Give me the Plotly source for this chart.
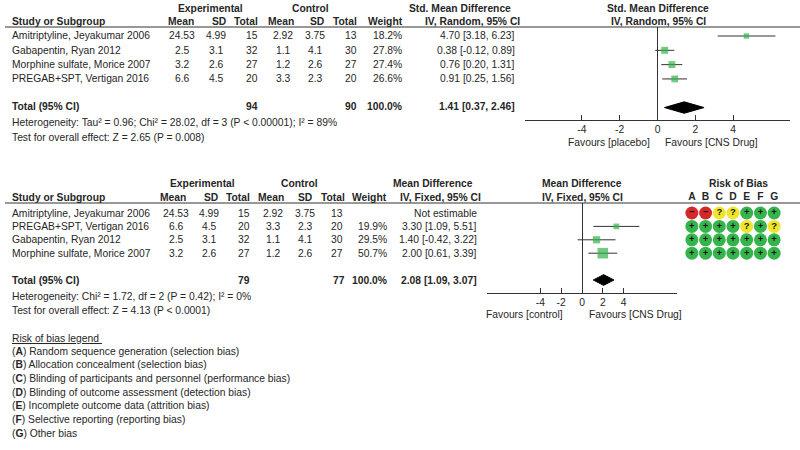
import plotly.graph_objects as go

# ---------------- data ----------------
top_studies = ["Amitriptyline, Jeyakumar 2006", "Gabapentin, Ryan 2012",
               "Morphine sulfate, Morice 2007", "PREGAB+SPT, Vertigan 2016"]
top_exp_mean = [24.53, 2.5, 3.2, 6.6]
top_exp_sd = [4.99, 3.1, 2.6, 4.5]
top_exp_n = [15, 32, 27, 20]
top_ctl_mean = [2.92, 1.1, 1.2, 3.3]
top_ctl_sd = [3.75, 4.1, 2.6, 2.3]
top_ctl_n = [13, 30, 27, 20]
top_weight = [18.2, 27.8, 27.4, 26.6]
top_est = [4.70, 0.38, 0.76, 0.91]
top_lo = [3.18, -0.12, 0.20, 0.25]
top_hi = [6.23, 0.89, 1.31, 1.56]
top_total_n = [94, 90]
top_pooled = [1.41, 0.37, 2.46]

bot_studies = ["Amitriptyline, Jeyakumar 2006", "PREGAB+SPT, Vertigan 2016",
               "Gabapentin, Ryan 2012", "Morphine sulfate, Morice 2007"]
bot_exp_mean = [24.53, 6.6, 2.5, 3.2]
bot_exp_sd = [4.99, 4.5, 3.1, 2.6]
bot_exp_n = [15, 20, 32, 27]
bot_ctl_mean = [2.92, 3.3, 1.1, 1.2]
bot_ctl_sd = [3.75, 2.3, 4.1, 2.6]
bot_ctl_n = [13, 20, 30, 27]
bot_weight = [None, 19.9, 29.5, 50.7]
bot_est = [None, 3.30, 1.40, 2.00]
bot_lo = [None, 1.09, -0.42, 0.61]
bot_hi = [None, 5.51, 3.22, 3.39]
bot_total_n = [79, 77]
bot_pooled = [2.08, 1.09, 3.07]

rob_domains = ["A", "B", "C", "D", "E", "F", "G"]
rob_ratings = [
    ["-", "-", "?", "?", "+", "+", "+"],
    ["+", "+", "+", "+", "?", "+", "?"],
    ["+", "+", "+", "+", "+", "+", "+"],
    ["+", "+", "+", "+", "+", "+", "+"],
]
rob_legend = [
    ("A", "Random sequence generation (selection bias)"),
    ("B", "Allocation concealment (selection bias)"),
    ("C", "Blinding of participants and personnel (performance bias)"),
    ("D", "Blinding of outcome assessment (detection bias)"),
    ("E", "Incomplete outcome data (attrition bias)"),
    ("F", "Selective reporting (reporting bias)"),
    ("G", "Other bias"),
]
forest_ticks = [-4, -2, 0, 2, 4]

# ---------------- styling ----------------
W, H = 800, 450
FONT = "Arial, 'Liberation Sans', sans-serif"
FS = 10.3
TXT = "#262626"
GREEN = "#34B44A"
RED = "#D6282B"
YELLOW = "#F1E52B"
LINE = "#333333"


def px(x):
    return x / W


def py(y):
    return 1 - y / H


annotations = []


def txt(x, y, s, anchor="left", bold=False, size=FS):
    if bold:
        s = "<b>" + s + "</b>"
    annotations.append(dict(x=px(x), y=py(y), xref="paper", yref="paper",
                            text=s, showarrow=False, xanchor=anchor,
                            yanchor="middle", font=dict(size=size, color=TXT, family=FONT)))


def fmt(v):
    return f"{v:g}"


def ci(e, l, h):
    return f"{e:.2f} [{l:.2f}, {h:.2f}]"


fig = go.Figure()

# ============ TOP PANEL ============
top_rows_px = [36 + 14.3 * i for i in range(4)]
top_total_px = 107
txt(210, 8, "Experimental", "center", True)
txt(310, 8, "Control", "center", True)
txt(460, 8, "Std. Mean Difference", "center", True)
txt(658, 8, "Std. Mean Difference", "center", True)
txt(10, 22, "Study or Subgroup", "left", True)
for xx, s in [(196, "Mean"), (228, "SD"), (260, "Total"), (296, "Mean"), (326, "SD"),
              (359, "Total"), (405, "Weight"), (522, "IV, Random, 95% CI")]:
    txt(xx, 22, s, "right", True)
txt(658, 22, "IV, Random, 95% CI", "center", True)

for i, yy in enumerate(top_rows_px):
    txt(10, yy, top_studies[i])
    txt(182, yy, fmt(top_exp_mean[i]), "center")
    txt(216, yy, fmt(top_exp_sd[i]), "center")
    txt(260, yy, str(top_exp_n[i]), "right")
    txt(283, yy, fmt(top_ctl_mean[i]), "center")
    txt(315, yy, fmt(top_ctl_sd[i]), "center")
    txt(359, yy, str(top_ctl_n[i]), "right")
    txt(404, yy, f"{top_weight[i]:.1f}%", "right")
    txt(517, yy, ci(top_est[i], top_lo[i], top_hi[i]), "right")

txt(10, top_total_px, "Total (95% CI)", "left", True)
txt(260, top_total_px, str(top_total_n[0]), "right", True)
txt(359, top_total_px, str(top_total_n[1]), "right", True)
txt(404, top_total_px, "100.0%", "right", True)
txt(517, top_total_px, ci(*top_pooled), "right", True)
txt(10, 123, "Heterogeneity: Tau² = 0.96; Chi² = 28.02, df = 3 (P &lt; 0.00001); I² = 89%")
txt(10, 137, "Test for overall effect: Z = 2.65 (P = 0.008)")
txt(652, 143, "Favours [placebo]", "right")
txt(663, 143, "Favours [CNS Drug]", "left")

# top forest
fig.add_trace(go.Scatter(
    x=top_est, y=list(range(4)), mode="markers", xaxis="x", yaxis="y",
    marker=dict(symbol="square", color=GREEN, size=[2.5 + 0.16 * w for w in top_weight],
                line=dict(width=0)),
    error_x=dict(type="data", symmetric=False,
                 array=[h - e for h, e in zip(top_hi, top_est)],
                 arrayminus=[e - l for e, l in zip(top_est, top_lo)],
                 color=LINE, thickness=1, width=0),
    hoverinfo="skip", showlegend=False))
e, l, h = top_pooled
fig.add_trace(go.Scatter(
    x=[l, e, h, e, l], y=[5, 5 - 0.4, 5, 5 + 0.4, 5], mode="lines", fill="toself",
    fillcolor="black", line=dict(color="black", width=1), xaxis="x", yaxis="y",
    hoverinfo="skip", showlegend=False))

# ============ BOTTOM PANEL ============
bot_rows_px = [213 + 13.4 * i for i in range(4)]
bot_total_px = 280
txt(203, 183, "Experimental", "center", True)
txt(299, 183, "Control", "center", True)
txt(433, 183, "Mean Difference", "center", True)
txt(582, 183, "Mean Difference", "center", True)
txt(738, 183, "Risk of Bias", "center", True)
txt(10, 198, "Study or Subgroup", "left", True)
for xx, s in [(188, "Mean"), (220, "SD"), (252, "Total"), (286, "Mean"), (314, "SD"),
              (347, "Total"), (389, "Weight"), (483, "IV, Fixed, 95% CI")]:
    txt(xx, 198, s, "right", True)
txt(582, 198, "IV, Fixed, 95% CI", "center", True)

for i, yy in enumerate(bot_rows_px):
    txt(10, yy, bot_studies[i])
    txt(176, yy, fmt(bot_exp_mean[i]), "center")
    txt(209, yy, fmt(bot_exp_sd[i]), "center")
    txt(252, yy, str(bot_exp_n[i]), "right")
    txt(273, yy, fmt(bot_ctl_mean[i]), "center")
    txt(305, yy, fmt(bot_ctl_sd[i]), "center")
    txt(345, yy, str(bot_ctl_n[i]), "right")
    if bot_weight[i] is not None:
        txt(389, yy, f"{bot_weight[i]:.1f}%", "right")
        txt(479, yy, ci(bot_est[i], bot_lo[i], bot_hi[i]), "right")
    else:
        txt(479, yy, "Not estimable", "right")

txt(10, bot_total_px, "Total (95% CI)", "left", True)
txt(252, bot_total_px, str(bot_total_n[0]), "right", True)
txt(347, bot_total_px, str(bot_total_n[1]), "right", True)
txt(389, bot_total_px, "100.0%", "right", True)
txt(479, bot_total_px, ci(*bot_pooled), "right", True)
txt(10, 296, "Heterogeneity: Chi² = 1.72, df = 2 (P = 0.42); I² = 0%")
txt(10, 310, "Test for overall effect: Z = 4.13 (P &lt; 0.0001)")
txt(565, 314, "Favours [control]", "right")
txt(587, 314, "Favours [CNS Drug]", "left")

idx = [i for i in range(4) if bot_est[i] is not None]
fig.add_trace(go.Scatter(
    x=[bot_est[i] for i in idx], y=idx, mode="markers", xaxis="x2", yaxis="y2",
    marker=dict(symbol="square", color=GREEN, size=[0.16 * bot_weight[i] + 2.5 for i in idx],
                line=dict(width=0)),
    error_x=dict(type="data", symmetric=False,
                 array=[bot_hi[i] - bot_est[i] for i in idx],
                 arrayminus=[bot_est[i] - bot_lo[i] for i in idx],
                 color=LINE, thickness=1, width=0),
    hoverinfo="skip", showlegend=False))
e, l, h = bot_pooled
fig.add_trace(go.Scatter(
    x=[l, e, h, e, l], y=[5, 5 - 0.4, 5, 5 + 0.4, 5], mode="lines", fill="toself",
    fillcolor="black", line=dict(color="black", width=1), xaxis="x2", yaxis="y2",
    hoverinfo="skip", showlegend=False))

# risk of bias circles
col_map = {"+": GREEN, "-": RED, "?": YELLOW}
rx, ry, rc, rt = [], [], [], []
for i, row in enumerate(rob_ratings):
    for j, r in enumerate(row):
        rx.append(rob_domains[j])
        ry.append(i)
        rc.append(col_map[r])
        rt.append("<b>" + ("−" if r == "-" else r) + "</b>")
fig.add_trace(go.Scatter(
    x=rx, y=ry, mode="markers+text", xaxis="x3", yaxis="y2",
    marker=dict(symbol="circle", size=13, color=rc, line=dict(width=0)),
    text=rt, textposition="middle center",
    textfont=dict(size=9.5, color="#151515", family=FONT),
    hoverinfo="skip", showlegend=False))

# legend text
txt(10, 338, "<u>Risk of bias legend </u>")
for k, (letter, desc) in enumerate(rob_legend):
    txt(10, 351 + 13.7 * k, f"(<b>{letter}</b>) {desc}")

# header lines
shapes = [
    dict(type="line", xref="paper", yref="paper", x0=px(5), x1=1, y0=py(27), y1=py(27),
         line=dict(color=LINE, width=1)),
    dict(type="line", xref="paper", yref="paper", x0=px(5), x1=1, y0=py(203), y1=py(203),
         line=dict(color=LINE, width=1)),
]

axis_common = dict(showgrid=False, zeroline=True, zerolinecolor=LINE, zerolinewidth=1,
                   showline=True, linecolor=LINE, linewidth=1, ticks="inside", ticklen=5,
                   tickcolor=LINE, tickvals=forest_ticks,
                   ticktext=[str(t) for t in forest_ticks],
                   tickfont=dict(size=FS, color=TXT, family=FONT), fixedrange=True)

fig.update_layout(
    width=W, height=H, margin=dict(l=0, r=0, t=0, b=0),
    paper_bgcolor="white", plot_bgcolor="white",
    font=dict(family=FONT, size=FS, color=TXT),
    xaxis=dict(domain=[px(525), px(790)], range=[-7, 7], anchor="y", **axis_common),
    yaxis=dict(domain=[py(120), py(27)], range=[5.87, -0.63], visible=False, fixedrange=True),
    xaxis2=dict(domain=[px(487), px(677)], range=[-9.13, 9.13], anchor="y2", **axis_common),
    yaxis2=dict(domain=[py(293), py(203)], range=[5.97, -0.746], visible=False, fixedrange=True),
    xaxis3=dict(domain=[px(685), px(781)], range=[-0.5, 6.5], anchor="y2", side="top",
                type="category", categoryorder="array", categoryarray=rob_domains,
                showgrid=False, zeroline=False, showline=False, ticks="",
                tickvals=rob_domains, ticktext=["<b>" + d + "</b>" for d in rob_domains],
                tickfont=dict(size=FS, color=TXT, family=FONT), fixedrange=True),
    annotations=annotations, shapes=shapes, showlegend=False, hovermode=False,
)

fig.write_html("out.html", config={"displayModeBar": False, "staticPlot": True},
               post_script="document.body.style.margin='0';document.body.style.overflow='hidden';")
